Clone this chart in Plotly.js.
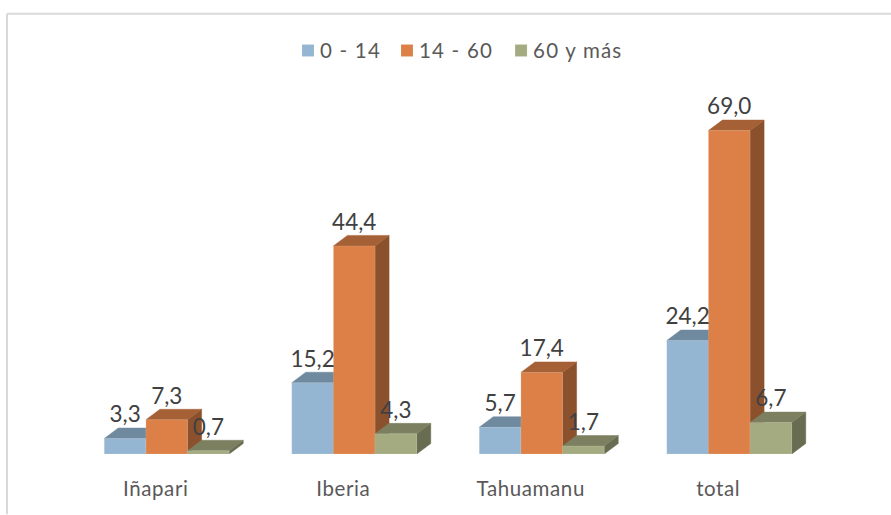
<!DOCTYPE html>
<html><head><meta charset="utf-8">
<script src="https://cdn.plot.ly/plotly-3.0.1.min.js"></script>
<style>html,body{margin:0;padding:0;background:#fff}#c{width:891px;height:515px}
.legendtext{letter-spacing:1.2px}.xtick text{letter-spacing:.6px}</style>
</head><body><div id="c"></div><script>
const categories=["Iñapari","Iberia","Tahuamanu","total"];
const seriesNames=["0 - 14","14 - 60","60 y más"];
const v0=[3.3,15.2,5.7,24.2];
const v1=[7.3,44.4,17.4,69.0];
const v2=[0.7,4.3,1.7,6.7];
const values=[v0,v1,v2];
const front=["#94B6D2","#DD8047","#A5AB81"];
const topFace=["#6F899F","#A66035","#7C8061"];
const sideFace=["#5E7386","#8B512D","#686C51"];
const FONT='Lato, "Noto Sans", sans-serif';
const W=2/9, DX=14/187.5, DY=10.5/4.7; // bar width and 3D depth in axis units
const xs=categories.map((_,i)=>i);
const traces=[], labelX=[], labelY=[], labelT=[];
values.forEach((vals,k)=>{
  const sx=[],sy=[],tx=[],ty=[];
  vals.forEach((v,i)=>{
    const c=i+(k-1)*W, l=c-W/2, r=c+W/2;
    sx.push(r,r+DX,r+DX,r,r,null); sy.push(0,DY,v+DY,v,0,null);
    tx.push(l,l+DX,r+DX,r,l,null); ty.push(v,v+DY,v+DY,v,v,null);
    labelX.push(c); labelY.push(v+DY); labelT.push(v.toFixed(1).replace('.',','));
  });
  const z=k*2;
  const face=(x,y,col)=>({type:'scatter',mode:'lines',x,y,fill:'toself',fillcolor:col,
    line:{color:col,width:0.5},showlegend:false,hoverinfo:'skip',zorder:z,cliponaxis:false});
  traces.push(face(sx,sy,sideFace[k]),face(tx,ty,topFace[k]));
  traces.push({type:'bar',x:xs,y:vals,name:seriesNames[k],zorder:z+1,
    marker:{color:front[k],line:{color:'rgba(255,255,255,0.25)',width:0.5}}});
});
traces.push({type:'scatter',mode:'text',x:labelX,y:labelY,text:labelT,textposition:'top center',
  textfont:{family:FONT,size:22.5,color:'#404040'},showlegend:false,hoverinfo:'skip',zorder:9,cliponaxis:false});
const ml=73, mr=68, mt=78.5, mb=60.5, pw=891-ml-mr, ph=515-mt-mb;
const px=p=>(p-ml)/pw, py=p=>1-(p-mt)/ph;
const frame={type:'line',xref:'paper',yref:'paper',line:{color:'#D9D9D9',width:2}};
const legendShift=[0,-7,-12]; // entry offsets, tighter than Plotly's default spacing
Plotly.newPlot('c',traces,{
  width:891,height:515,autosize:false,
  margin:{l:ml,r:mr,t:mt,b:mb,pad:0},
  paper_bgcolor:'#fff',plot_bgcolor:'#fff',
  barmode:'group',bargap:1/3,bargroupgap:0,
  xaxis:{range:[-0.5,3.5+ (pw-750)/187.5],tickmode:'array',tickvals:xs,ticktext:categories,
    showgrid:false,zeroline:false,showline:false,ticks:'',fixedrange:true,
    ticklabelshift:-11,ticklabelstandoff:20,
    tickfont:{family:FONT,size:20.5,color:'#595959'}},
  yaxis:{range:[0,80],visible:false,fixedrange:true},
  showlegend:true,
  legend:{orientation:'h',x:px(288),xanchor:'left',y:py(50),yanchor:'middle',
    font:{family:FONT,size:20.5,color:'#595959'},bgcolor:'rgba(0,0,0,0)'},
  shapes:[
    Object.assign({},frame,{x0:px(7),x1:px(891),y0:py(13),y1:py(13)}),
    Object.assign({},frame,{x0:px(7),x1:px(7),y0:py(13),y1:py(515)})
  ]
},{displayModeBar:false,staticPlot:true}).then(gd=>{
  gd.querySelectorAll('.legend .traces').forEach((g,i)=>{
    const m=/translate\(([-\d.]+),\s*([-\d.]+)\)/.exec(g.getAttribute('transform')||'');
    if(m) g.setAttribute('transform','translate('+(parseFloat(m[1])+legendShift[i])+','+m[2]+')');
    const t=g.querySelector('.legendtext');
    if(t) t.setAttribute('x',parseFloat(t.getAttribute('x'))-8);
  });
});
</script></body></html>
